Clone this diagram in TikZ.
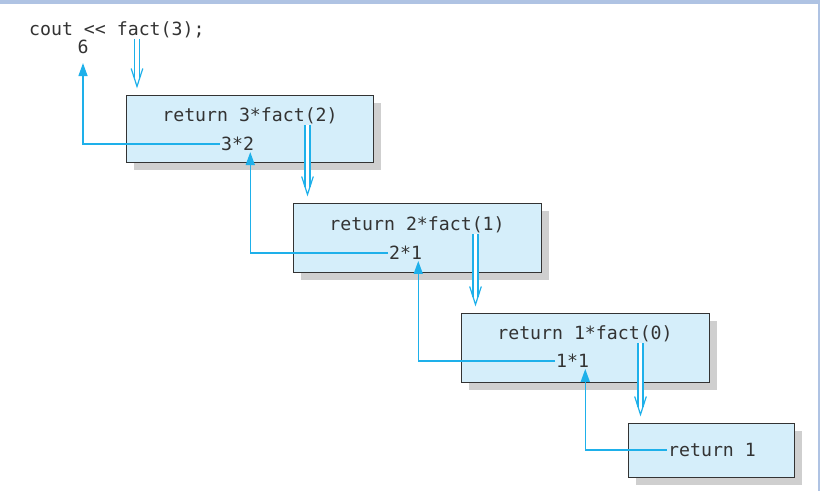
\documentclass[tikz,border=0pt]{standalone}
\usepackage{fontspec}
\setmonofont{DejaVu Sans Mono}
\usepackage{xcolor}
\definecolor{ink}{HTML}{333333}
\definecolor{sky}{HTML}{D5EEFA}
\definecolor{wire}{HTML}{1EB0EA}
\definecolor{shade}{HTML}{CFCFCF}
\definecolor{chrome}{HTML}{AFC3E3}
\usetikzlibrary{arrows.meta,positioning,calc,shadows}
\tikzset{
  code/.style={font=\ttfamily\fontsize{18.2}{21}\selectfont,text=ink,inner sep=1pt},
  frame/.style={draw=ink,line width=1pt,fill=sky,
                drop shadow={shadow xshift=8pt,shadow yshift=-8pt,fill=shade,opacity=1}},
  ret/.style={draw=wire,line width=1.5pt,-{Triangle[length=13pt,width=9pt]}},
  twin/.style={draw=wire,line width=1.2pt,double=white,double distance=3.8pt},
  barb/.style={draw=wire,line width=1.2pt,line join=miter},
}
% double call arrow from #1 down to the top of node #2
\newcommand\callarrow[2]{%
  \draw[twin] (#1) -- ([yshift=16pt]#1 |- #2.north);
  \draw[barb] ([xshift=-5.8pt,yshift=26pt]#1 |- #2.north)
    -- ([yshift=8pt]#1 |- #2.north) -- ([xshift=5.8pt,yshift=26pt]#1 |- #2.north);
}

\begin{document}
\begin{tikzpicture}[x=1pt,y=-1pt]
  \useasboundingbox (0,0) rectangle (820,491);
  % window edge
  \fill[chrome] (0,0) rectangle (820,4);
  \fill[chrome] (818,0) rectangle (820,491);

  % frames
  \node[frame,minimum width=247pt,minimum height=67pt] (b1) at (249.5,128.5) {};
  \node[frame,minimum width=248pt,minimum height=69pt] (b2) at (417,237.5) {};
  \node[frame,minimum width=248pt,minimum height=69pt] (b3) at (585,347.5) {};
  \node[frame,minimum width=166pt,minimum height=54pt] (b4) at (711,450) {};

  % texts
  \node[code,anchor=west] (cout) at (28,30) {cout << fact(3);};
  \node[code] (six) at (83,47) {6};
  \node[code] (r1) at (250,116) {return 3*fact(2)};
  \node[code] (r2) at (417,225) {return 2*fact(1)};
  \node[code] (r3) at (585,334) {return 1*fact(0)};
  \node[code,anchor=west] (r4) at (667,450) {return 1};
  \node[code,anchor=west] (v1) at (220,144) {3*2};
  \node[code,anchor=west] (v2) at (388,253) {2*1};
  \node[code,anchor=west] (v3) at (555,361) {1*1};

  % calls going down
  \coordinate (c0) at ([xshift=109pt]cout.south west);
  \coordinate (c1) at ([xshift=-66pt]b1.east |- r1.south);
  \coordinate (c2) at ([xshift=-66pt]b2.east |- r2.south);
  \coordinate (c3) at ([xshift=-69pt]b3.east |- r3.south);
  \callarrow{c0}{b1}
  \callarrow{c1}{b2}
  \callarrow{c2}{b3}
  \callarrow{c3}{b4}

  % values coming back
  \draw[ret] (r4.west) -| ([xshift=-5pt]v3.south east);
  \draw[ret] (v3.west) -| ([xshift=-5pt]v2.south east);
  \draw[ret] (v2.west) -| ([xshift=-5pt]v1.south east);
  \draw[ret,shorten >=8pt] (v1.west) -| (six.south);
\end{tikzpicture}
\end{document}
